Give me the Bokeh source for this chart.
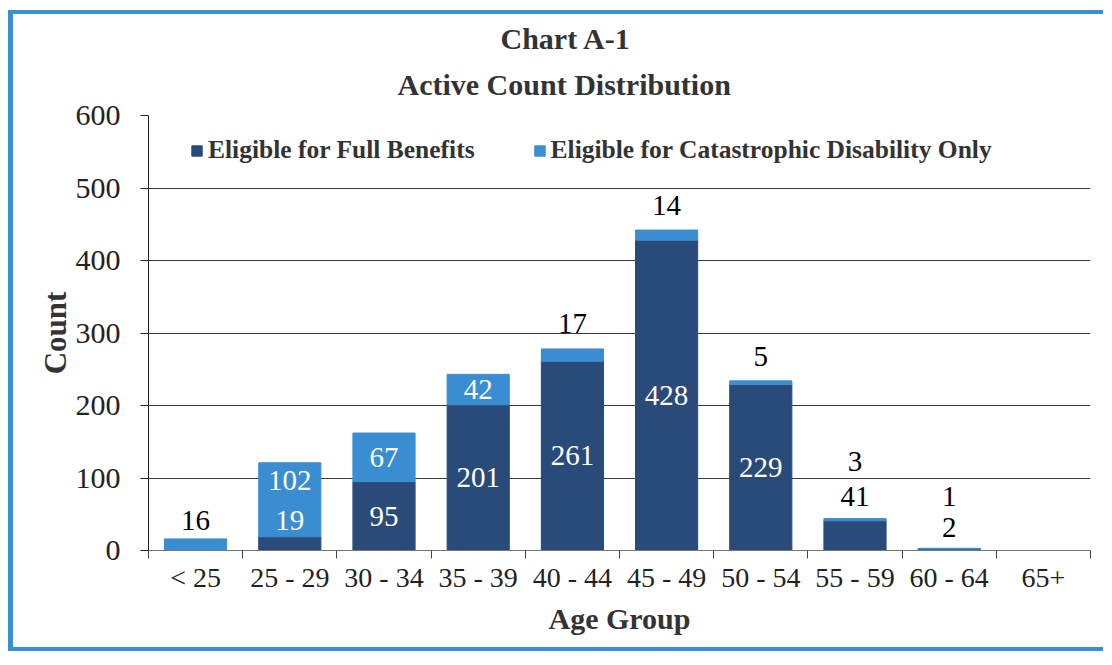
from bokeh.plotting import figure
from bokeh.models import ColumnDataSource, FixedTicker, Legend, Title
from bokeh.core.properties import value
from bokeh.embed import file_html
from bokeh.resources import INLINE

# ---- data ----
categories = ["< 25", "25 - 29", "30 - 34", "35 - 39", "40 - 44",
              "45 - 49", "50 - 54", "55 - 59", "60 - 64", "65+"]
full_benefits = [0, 19, 95, 201, 261, 428, 229, 41, 2, 0]
catastrophic = [16, 102, 67, 42, 17, 14, 5, 3, 1, 0]
y_ticks = [0, 100, 200, 300, 400, 500, 600]

FONT = "'Liberation Serif', 'Times New Roman', serif"
DARK = "#2A4B7A"
LIGHT = "#3A8DD0"
BLUE_FRAME = "#3A8FD0"

xpos = [i + 0.5 for i in range(len(categories))]
source = ColumnDataSource(dict(x=xpos, full=full_benefits, cat=catastrophic))

p = figure(width=1095, height=641, x_range=(0, len(categories)), y_range=(0, 600),
           output_backend="svg", toolbar_location=None,
           min_border_left=135, min_border_right=18,
           min_border_top=101, min_border_bottom=105)
p.styles = {"margin-left": "8px", "margin-top": "10px",
            "border-left": f"5px solid {BLUE_FRAME}",
            "border-top": f"4px solid {BLUE_FRAME}",
            "border-bottom": f"4px solid {BLUE_FRAME}"}
p.outline_line_color = None
p.background_fill_color = "white"
p.border_fill_color = "white"

renderers = p.vbar_stack(["full", "cat"], x="x", width=0.66, source=source,
                         fill_color=[DARK, LIGHT], line_color=[DARK, LIGHT])

# ---- data labels ----
# default: centred in the segment, white; some labels were moved in the original
overrides = {
    ("full", 1): (41, "white"),
    ("full", 7): (74, "black"),
    ("full", 8): (32, "black"),
    ("cat", 0): (41, "black"),
    ("cat", 1): (97, "white"),
    ("cat", 4): (313, "black"),
    ("cat", 5): (476, "black"),
    ("cat", 6): (268, "black"),
    ("cat", 7): (123, "black"),
    ("cat", 8): (74, "black"),
}
lx, ly, lt, lc = [], [], [], []
for i, (f, c) in enumerate(zip(full_benefits, catastrophic)):
    if f > 0:
        y, col = overrides.get(("full", i), (f / 2, "white"))
        lx.append(xpos[i]); ly.append(y); lt.append(str(f)); lc.append(col)
    if c > 0:
        y, col = overrides.get(("cat", i), (f + c / 2, "white"))
        lx.append(xpos[i]); ly.append(y); lt.append(str(c)); lc.append(col)
lsrc = ColumnDataSource(dict(x=lx, y=ly, text=lt, color=lc))
p.text(x="x", y="y", text="text", text_color="color", source=lsrc,
       text_font=value(FONT), text_font_size="29px",
       text_align="center", text_baseline="middle")

# ---- axes ----
p.xgrid.grid_line_color = None
p.ygrid.grid_line_color = "#3a3a3a"
p.ygrid.grid_line_width = 1
p.yaxis.ticker = FixedTicker(ticks=y_ticks)
p.yaxis.axis_line_color = "#222222"
p.yaxis.major_tick_line_color = "#222222"
p.yaxis.major_tick_out = 8
p.yaxis.major_tick_in = 0
p.yaxis.minor_tick_line_color = None
p.yaxis.major_label_text_font = FONT
p.yaxis.major_label_text_font_size = "30px"
p.yaxis.major_label_text_color = "#222222"
p.yaxis.major_label_standoff = 20
p.yaxis.axis_label = "Count"
p.yaxis.axis_label_text_font = FONT
p.yaxis.axis_label_text_font_size = "31px"
p.yaxis.axis_label_text_font_style = "bold"
p.yaxis.axis_label_text_color = "#333333"
p.yaxis.axis_label_standoff = 0

p.xaxis.ticker = FixedTicker(ticks=xpos, minor_ticks=list(range(len(categories) + 1)))
p.xaxis.major_label_overrides = {x: c for x, c in zip(xpos, categories)}
p.xaxis.major_tick_line_color = None
p.xaxis.minor_tick_line_color = "#444444"
p.xaxis.minor_tick_out = 8
p.xaxis.minor_tick_in = 0
p.xaxis.axis_line_color = "#777777"
p.xaxis.major_label_text_font = FONT
p.xaxis.major_label_text_font_size = "28px"
p.xaxis.major_label_text_color = "#222222"
p.xaxis.major_label_standoff = 3
p.xaxis.axis_label = "Age Group"
p.xaxis.axis_label_text_font = FONT
p.xaxis.axis_label_text_font_size = "30px"
p.xaxis.axis_label_text_font_style = "bold"
p.xaxis.axis_label_text_color = "#333333"
p.xaxis.axis_label_standoff = 6

# ---- legend ----
legend = Legend(items=[("Eligible for Full Benefits", [renderers[0]]),
                       ("Eligible for Catastrophic Disability Only", [renderers[1]])],
                orientation="horizontal", location=(42, 385),
                label_text_font=FONT, label_text_font_size="25.5px",
                label_text_font_style="bold", label_text_color="#333333",
                glyph_width=13, glyph_height=13, label_standoff=5, spacing=58,
                padding=0, margin=0, border_line_color=None, background_fill_alpha=0)
p.add_layout(legend, "center")

# ---- title (two lines, centred over the chart area rather than the plot frame) ----
# p.title is the outer line; the added Title sits next to the plot frame
p.title.text = "Chart A-1"
p.title.align = "left"
p.title.offset = 352
p.title.standoff = -6
p.title.text_font = FONT
p.title.text_font_size = "30px"
p.title.text_font_style = "bold"
p.title.text_color = "#333333"
p.add_layout(Title(text="Active Count Distribution", align="left", offset=249, standoff=29,
                   text_font=FONT, text_font_size="30px", text_font_style="bold",
                   text_color="#333333"), "above")

open("out.html", "w").write(file_html(p, INLINE))
